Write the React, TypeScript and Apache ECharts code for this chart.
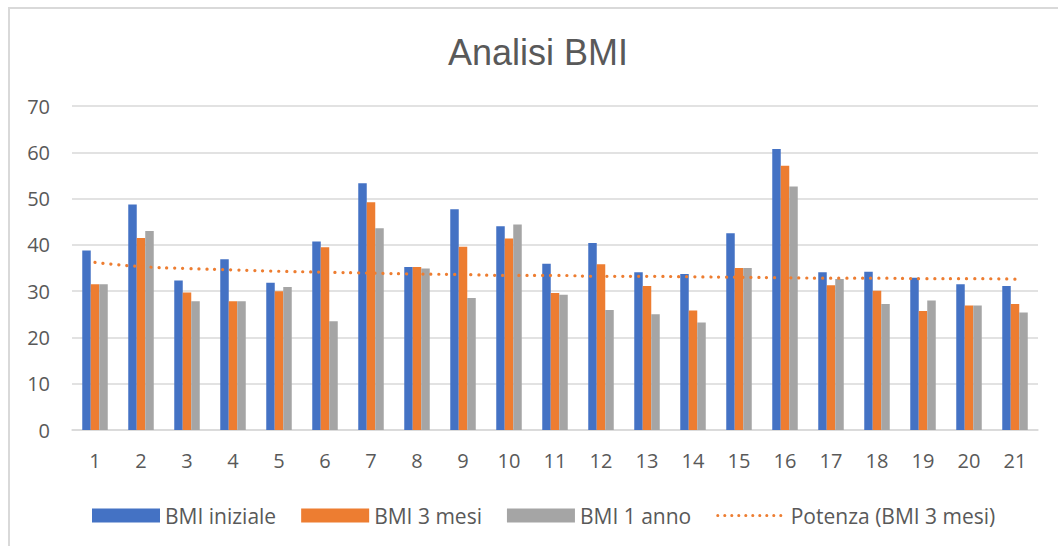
import React, { useEffect, useRef } from "react";
import * as echarts from "echarts";

const categories = ["1","2","3","4","5","6","7","8","9","10","11","12","13","14","15","16","17","18","19","20","21"];
const bmiIniziale = [38.8,48.7,32.3,36.9,31.8,40.7,53.3,35.2,47.7,44.0,35.9,40.4,34.1,33.7,42.5,60.7,34.1,34.2,32.9,31.5,31.1];
const bmi3Mesi = [31.5,41.5,29.7,27.8,30.0,39.5,49.2,35.2,39.6,41.4,29.6,35.8,31.1,25.8,35.0,57.1,31.3,30.1,25.7,26.9,27.2];
const bmi1Anno = [31.5,43.0,27.8,27.8,30.9,23.5,43.6,34.9,28.5,44.4,29.2,25.9,25.0,23.2,35.0,52.6,32.6,27.2,28.0,26.9,25.4];
const trend3Mesi = [36.2,35.3,34.9,34.6,34.3,34.1,33.9,33.7,33.6,33.4,33.4,33.2,33.2,33.1,33.0,32.9,32.8,32.8,32.7,32.7,32.6];
const yTicks = { min: 0, max: 70, interval: 10 };
const seriesNames = ["BMI iniziale", "BMI 3 mesi", "BMI 1 anno", "Potenza (BMI 3 mesi)"];

const FONT = "'Open Sans', sans-serif";
const TXT = "#595959";

export default function App() {
  const ref = useRef<HTMLDivElement>(null);
  useEffect(() => {
    if (!ref.current) return;
    const chart = echarts.init(ref.current, null, { renderer: "svg" });
    const bar = (name: string, data: number[], color: string) => ({
      name,
      type: "bar",
      data,
      barWidth: 8.5,
      barGap: "0%",
      itemStyle: { color },
    });
    chart.setOption({
      animation: false,
      backgroundColor: "#ffffff",
      graphic: [
        {
          type: "rect",
          shape: { x: 9, y: 8, width: 1100, height: 600 },
          style: { fill: "none", stroke: "#D9D9D9", lineWidth: 2 },
          silent: true,
        },
        {
          type: "text",
          x: 538,
          y: 52,
          style: {
            text: "Analisi BMI",
            fill: TXT,
            font: "36px 'Liberation Sans', Arial, sans-serif",
            textAlign: "center",
            textVerticalAlign: "middle",
          },
        },
      ],
      grid: { left: 72, right: 20, top: 106, bottom: 116 },
      legend: {
        data: [
          { name: seriesNames[0], icon: "rect" },
          { name: seriesNames[1], icon: "rect" },
          { name: seriesNames[2], icon: "rect" },
          {
            name: seriesNames[3],
            itemStyle: { opacity: 0 },
            lineStyle: { color: "#ED7D31", width: 3, type: [0.1, 6.9], cap: "round" },
          },
        ],
        left: 87,
        top: 500,
        itemWidth: 68,
        itemHeight: 14,
        itemGap: 25,
        textStyle: { fontFamily: FONT, fontSize: 21, color: TXT },
      },
      xAxis: {
        type: "category",
        data: categories,
        axisLine: { show: true, lineStyle: { color: "#D9D9D9", width: 1.5 } },
        axisTick: { show: false },
        axisLabel: { fontFamily: FONT, fontSize: 20, color: TXT, margin: 20 },
      },
      yAxis: {
        type: "value",
        min: yTicks.min,
        max: yTicks.max,
        interval: yTicks.interval,
        axisLine: { show: false },
        axisTick: { show: false },
        splitLine: { lineStyle: { color: "#D9D9D9", width: 1.5 } },
        axisLabel: { fontFamily: FONT, fontSize: 20, color: TXT, margin: 22 },
      },
      series: [
        bar(seriesNames[0], bmiIniziale, "#4472C4"),
        bar(seriesNames[1], bmi3Mesi, "#ED7D31"),
        bar(seriesNames[2], bmi1Anno, "#A5A5A5"),
        {
          name: seriesNames[3],
          type: "line",
          data: trend3Mesi,
          symbol: "none",
          smooth: true,
          z: 5,
          itemStyle: { color: "#ED7D31" },
          lineStyle: { color: "#ED7D31", width: 3.2, type: [0.1, 7.9], cap: "round" },
        },
      ],
    });
    return () => chart.dispose();
  }, []);
  return (
    <div
      ref={ref}
      style={{ position: "absolute", left: 0, top: 0, width: 1058, height: 546 }}
    />
  );
}
